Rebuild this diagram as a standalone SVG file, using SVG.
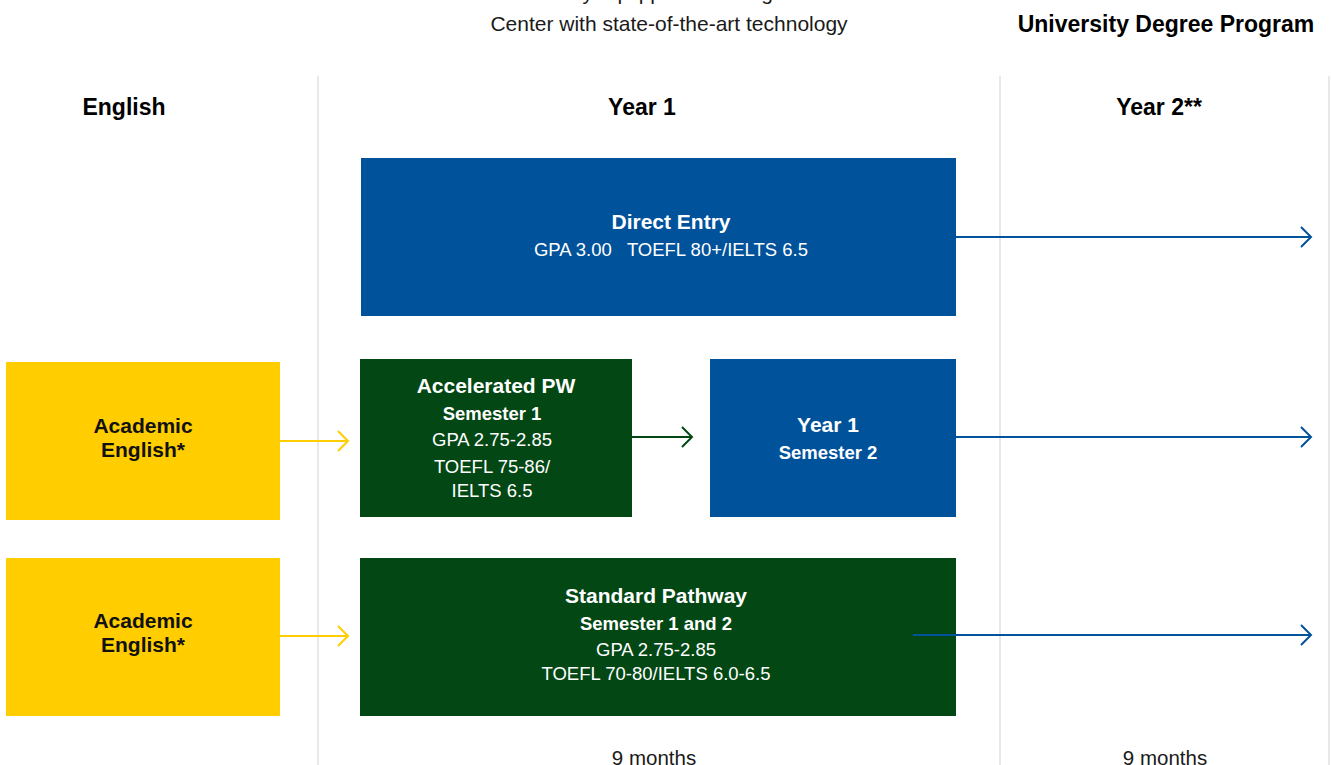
<svg xmlns="http://www.w3.org/2000/svg" width="1331" height="765" viewBox="0 0 1331 765">
<defs>
<style>
text{font-family:"Liberation Sans",Arial,sans-serif;text-anchor:middle}
.hd{font-size:23px;font-weight:bold;fill:#000}
.top{font-size:21px;fill:#1a1a1a}
.t1{font-size:21px;font-weight:bold;fill:#fff}
.t2{font-size:18.5px;font-weight:bold;fill:#fff}
.t3{font-size:18.5px;fill:#fff}
.ye{font-size:21px;font-weight:bold;fill:#111}
.mo{font-size:20.5px;fill:#1a1a1a}
.grid{stroke:#e1e1e1;stroke-width:1.5}
.blue{fill:#00529b}
.green{fill:#024714}
.yellow{fill:#ffcd00}
.cb{stroke:#00529b;stroke-width:2;fill:none}
.cg{stroke:#024714;stroke-width:2;fill:none}
.cy{stroke:#ffcd00;stroke-width:2;fill:none}
</style>
</defs>
<rect width="1331" height="765" fill="#fff"/>
<g id="gridlines">
<line class="grid" x1="318" y1="76" x2="318" y2="765"/>
<line class="grid" x1="1000" y1="76" x2="1000" y2="765"/>
<line class="grid" x1="1329" y1="76" x2="1329" y2="765"/>
</g>
<g id="header">
<text class="top" x="669" y="0">Academically equipped Learning Resource</text>
<text class="top" x="669" y="31">Center with state-of-the-art technology</text>
<text class="hd" x="1166" y="32">University Degree Program</text>
<text class="hd" x="124" y="115">English</text>
<text class="hd" x="642" y="115">Year 1</text>
<text class="hd" x="1159" y="115">Year 2**</text>
</g>
<g id="direct-entry">
<rect class="blue" x="361" y="158" width="595" height="158"/>
<text class="t1" x="671" y="229">Direct Entry</text>
<text class="t3" x="671" y="256" xml:space="preserve">GPA 3.00   TOEFL 80+/IELTS 6.5</text>
</g>
<g id="academic-english-1">
<rect class="yellow" x="6" y="362" width="274" height="158"/>
<text class="ye" x="143" y="433">Academic</text>
<text class="ye" x="143" y="457">English*</text>
</g>
<g id="accelerated-pw">
<rect class="green" x="360" y="359" width="272" height="158"/>
<text class="t1" x="496" y="393">Accelerated PW</text>
<text class="t2" x="492" y="420">Semester 1</text>
<text class="t3" x="492" y="446">GPA 2.75-2.85</text>
<text class="t3" x="492" y="473">TOEFL 75-86/</text>
<text class="t3" x="492" y="497">IELTS 6.5</text>
</g>
<g id="year1-sem2">
<rect class="blue" x="710" y="359" width="246" height="158"/>
<text class="t1" x="828" y="432">Year 1</text>
<text class="t2" x="828" y="459">Semester 2</text>
</g>
<g id="academic-english-2">
<rect class="yellow" x="6" y="558" width="274" height="158"/>
<text class="ye" x="143" y="628">Academic</text>
<text class="ye" x="143" y="652">English*</text>
</g>
<g id="standard-pathway">
<rect class="green" x="360" y="558" width="596" height="158"/>
<text class="t1" x="656" y="603">Standard Pathway</text>
<text class="t2" x="656" y="630">Semester 1 and 2</text>
<text class="t3" x="656" y="656">GPA 2.75-2.85</text>
<text class="t3" x="656" y="680">TOEFL 70-80/IELTS 6.0-6.5</text>
</g>
<g id="connectors">
<line class="cb" x1="956" y1="237" x2="1311" y2="237"/>
<polyline class="cb" points="1301,227 1311,237 1301,247"/>
<line class="cy" x1="280" y1="441" x2="348" y2="441"/>
<polyline class="cy" points="338,431 348,441 338,451"/>
<line class="cg" x1="632" y1="437" x2="692" y2="437"/>
<polyline class="cg" points="682,427 692,437 682,447"/>
<line class="cb" x1="956" y1="437" x2="1311" y2="437"/>
<polyline class="cb" points="1301,427 1311,437 1301,447"/>
<line class="cy" x1="280" y1="636" x2="348" y2="636"/>
<polyline class="cy" points="338,626 348,636 338,646"/>
<line class="cb" x1="913" y1="635" x2="1311" y2="635"/>
<polyline class="cb" points="1301,625 1311,635 1301,645"/>
</g>
<g id="footer">
<text class="mo" x="654" y="765">9 months</text>
<text class="mo" x="1165" y="765">9 months</text>
</g>
</svg>
